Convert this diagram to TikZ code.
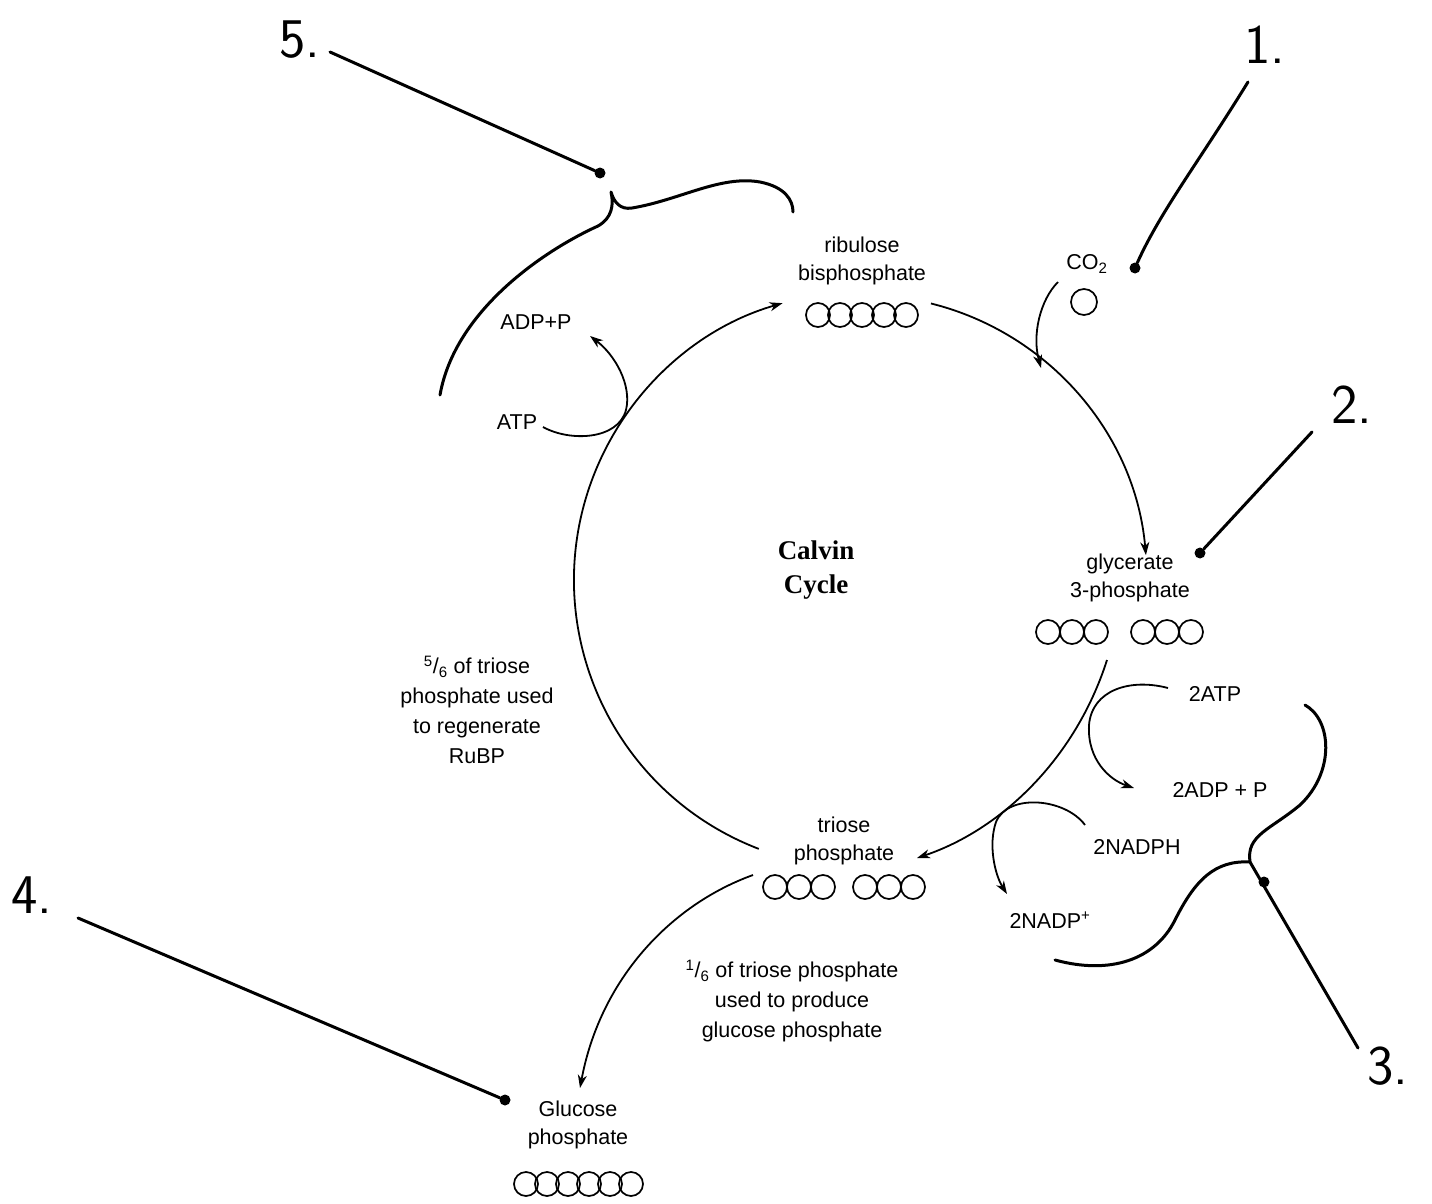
\documentclass[tikz,border=0pt]{standalone}
\usepackage{fontspec}
\setmainfont{Liberation Sans}
\newfontfamily\cyclefont{Liberation Serif}
\usetikzlibrary{arrows.meta,positioning,calc}
\tikzset{
  lbl/.style={font=\fontsize{21.5}{28}\selectfont,align=center,inner sep=0pt},
  note/.style={lbl,font=\fontsize{21.5}{30}\selectfont},
  numlbl/.style={font=\sffamily\fontsize{56}{56}\selectfont,inner sep=0pt},
  flow/.style={line width=1.8pt,-{Stealth[length=13pt,width=9pt,inset=4pt]}},
  pen/.style={line width=3pt,line cap=round,line join=round},
  carbon/.style={line width=1.7pt},
  pin/.style={circle,fill=black,inner sep=0pt,minimum size=11pt},
}
\newcommand{\carbons}[2]{\foreach \cx in {#1} \draw[carbon] (\cx,#2) circle (12pt);}

\begin{document}
\begin{tikzpicture}[x=1pt,y=-1pt]
    \useasboundingbox (0,0) rectangle (1432,1204);
    \coordinate (C) at (862,580);

    \node[lbl] (rubp) at (862,261) {ribulose\\bisphosphate};
    \node[lbl] (gp) at (1130,578) {glycerate\\3-phosphate};
    \node[lbl] (tp) at (844,841) {triose\\phosphate};
    \node[lbl] (glu) at (578,1125) {Glucose\\phosphate};
    \node[lbl] (co2) at (1087,264) {CO\textsubscript{2}};
    \node[lbl] (adp) at (536,322) {ADP+P};
    \node[lbl] (atp) at (517,422) {ATP};
    \node[lbl] (atp2) at (1215,694) {2ATP};
    \node[lbl] (adp2) at (1220,790) {2ADP + P};
    \node[lbl] (nadph) at (1137,847) {2NADPH};
    \node[lbl] (nadp) at (1050,920) {2NADP\textsuperscript{+}};
    \node[note] (regen) at (477,710) {\textsuperscript{5}/\textsubscript{6} of triose\\phosphate used\\to regenerate\\RuBP};
    \node[note] (export) at (792,1001) {\textsuperscript{1}/\textsubscript{6} of triose phosphate\\used to produce\\glucose phosphate};
    \node[font=\cyclefont\bfseries\fontsize{27}{34}\selectfont,align=center,inner sep=0pt] (title) at (816,570) {Calvin\\Cycle};

    \carbons{818,840,862,884,906}{315}
    \draw[carbon] (1084,302) circle (13pt);
    \carbons{1048,1072,1096,1143,1167,1191}{632}
    \carbons{775,799,823,865,889,913}{887}
    \carbons{526,547,568,589,610,631}{1184}

    \draw[flow] ($(C)+(76:285pt)$) coordinate (rubpout) arc[start angle=76,end angle=5,radius=285pt] coordinate (gpin);
    \coordinate (gpout) at (1107,660);
    \coordinate (tpin) at (917,858);
    \draw[flow] (gpout) .. controls (1075,760) and (1000,830) .. (tpin);
    \draw[flow] ($(C)+(-111:288pt)$) coordinate (tpout) arc[start angle=-111,end angle=-254,radius=288pt] coordinate (rubpin);

    \coordinate (co2a) at (1058,282);
    \coordinate (co2b) at (1041,368);
    \draw[flow] (co2a) .. controls (1040,300) and (1032,335) .. (co2b);
    \coordinate (atpa) at (543,427);
    \coordinate (atpb) at (590,336);
    \draw[flow] (atpa) .. controls (570,442) and (618,440) .. (626,410) .. controls (632,385) and (615,355) .. (atpb);
    \coordinate (atp2a) at (1168,688);
    \coordinate (atp2b) at (1134,788);
    \draw[flow] (atp2a) .. controls (1130,678) and (1092,690) .. (1089,725) .. controls (1087,760) and (1110,780) .. (atp2b);
    \coordinate (nadpha) at (1085,825);
    \coordinate (nadphb) at (1007,894);
    \draw[flow] (nadpha) .. controls (1065,798) and (1008,793) .. (996,822) .. controls (988,845) and (995,875) .. (nadphb);
    \coordinate (glua) at (753,875);
    \coordinate (glub) at (580,1088);
    \draw[flow] (glua) .. controls (670,905) and (600,980) .. (glub);

    \node[numlbl] (n1) at (1265,45) {1.};
    \node[numlbl] (n2) at (1352,405) {2.};
    \node[numlbl] (n3) at (1388,1066) {3.};
    \node[numlbl] (n4) at (32,895) {4.};
    \node[numlbl] (n5) at (300,40) {5.};

    \node[pin] (p1) at (1135,268) {};
    \node[pin] (p2) at (1200,553) {};
    \node[pin] (p3) at (1264,882) {};
    \node[pin] (p4) at (505,1100) {};
    \node[pin] (p5) at (600,173) {};

    \coordinate (t1) at (1248,82);
    \coordinate (t2) at (1312,432);
    \coordinate (t3) at (1358,1048);
    \coordinate (t4) at (78,918);
    \coordinate (t5) at (330,52);
    \coordinate (j3) at (1250,862);
    \draw[pen] (t1) .. controls (1200,160) and (1160,212) .. (p1);
    \draw[pen] (t2) -- (p2);
    \draw[pen] (j3) -- (t3);
    \draw[pen] (t4) -- (p4);
    \draw[pen] (t5) -- (p5);

    \draw[pen] (1305,705) .. controls (1332,720) and (1335,772) .. (1300,805) .. controls (1270,830) and (1246,835) .. (j3)
      .. controls (1215,860) and (1195,880) .. (1175,920) .. controls (1155,960) and (1110,975) .. (1055,960);
    \draw[pen] (440,395) .. controls (455,310) and (545,250) .. (598,226) .. controls (612,218) and (614,205) .. (611,192)
      .. controls (614,202) and (620,210) .. (632,208) .. controls (680,200) and (720,175) .. (760,182) .. controls (785,187) and (793,200) .. (793,212);
\end{tikzpicture}
\end{document}
